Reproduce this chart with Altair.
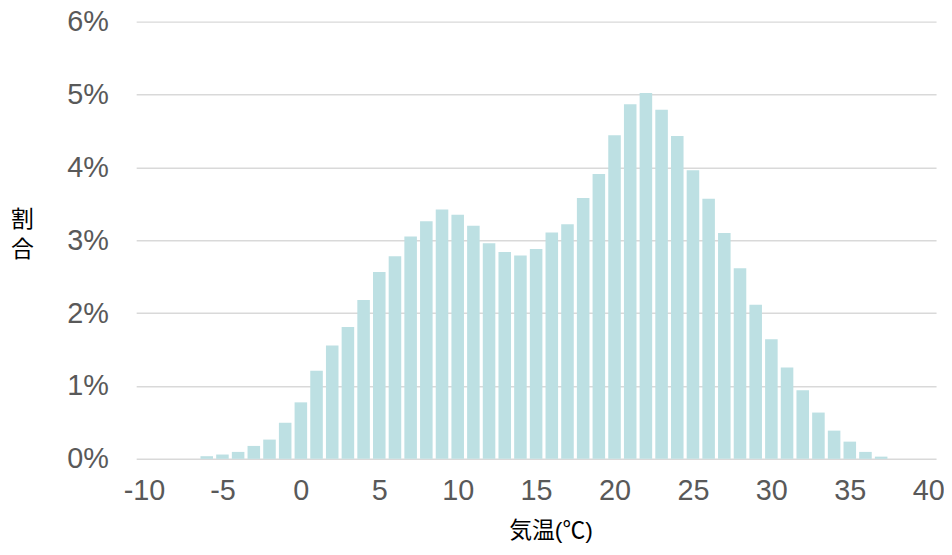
import altair as alt
import pandas as pd

temps = list(range(-6, 38))
shares = [0.036, 0.059, 0.095, 0.177, 0.264, 0.495, 0.775, 1.21, 1.555, 1.81,
          2.18, 2.565, 2.78, 3.05, 3.26, 3.42, 3.35, 3.20, 2.96, 2.84,
          2.79, 2.88, 3.105, 3.22, 3.58, 3.91, 4.44, 4.865, 5.02, 4.79,
          4.43, 3.96, 3.57, 3.10, 2.615, 2.115, 1.64, 1.255, 0.94, 0.635,
          0.387, 0.236, 0.095, 0.03]
x_ticks = [-10, -5, 0, 5, 10, 15, 20, 25, 30, 35, 40]
y_ticks = [0, 0.01, 0.02, 0.03, 0.04, 0.05, 0.06]

df = pd.DataFrame({"t": temps, "share": [s / 100 for s in shares]})

chart = alt.Chart(df).transform_calculate(
    x1="datum.t - 0.4", x2="datum.t + 0.4", base="0"
).mark_bar(color="#BDE0E3").encode(
    x=alt.X("x1:Q",
            scale=alt.Scale(domain=[-10.5, 40.5], nice=False, zero=False),
            axis=alt.Axis(values=x_ticks, grid=False, domain=False, ticks=False,
                          labelExpr="'' + datum.value",
                          labelFont="Liberation Sans", labelFontSize=29,
                          labelColor="#595959", labelPadding=18,
                          title="気温(℃)",
                          titleFont="Liberation Sans, Noto Sans CJK JP",
                          titleFontSize=23, titleFontWeight="normal",
                          titleColor="#000000", titleX=417, titleY=79,
                          titleBaseline="alphabetic", titleAlign="center")),
    x2="x2:Q",
    y=alt.Y("share:Q",
            scale=alt.Scale(domain=[0, 0.06], nice=False),
            axis=alt.Axis(values=y_ticks, format=".0%", grid=True,
                          gridColor="#D9D9D9", gridWidth=1.5,
                          domain=False, ticks=False,
                          labelFont="Liberation Sans", labelFontSize=29,
                          labelColor="#595959", labelPadding=28,
                          title=["割", "合"], titleAngle=0,
                          titleFont="Noto Sans CJK JP", titleFontSize=23,
                          titleFontWeight="normal", titleColor="#000000",
                          titleLineHeight=30, titleX=-115, titleY=206,
                          titleAlign="center", titleBaseline="alphabetic")),
    y2="base:Q",
).properties(
    width=805, height=440,
    autosize=alt.AutoSizeParams(type="none"),
    padding={"left": 129, "top": 12, "right": 8, "bottom": 83},
).configure_view(stroke=None)

chart.save("out.html", embed_options={"renderer": "svg", "actions": False})
